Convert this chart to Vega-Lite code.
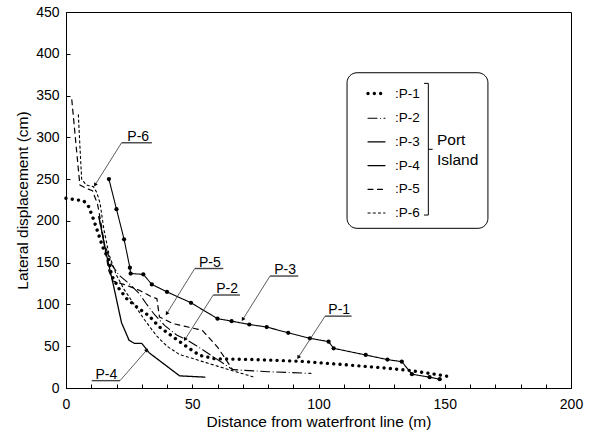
{
  "$schema": "https://vega.github.io/schema/vega-lite/v6.json",
  "width": 505,
  "height": 376,
  "autosize": {"type": "none"},
  "padding": {"left": 66, "top": 12, "right": 21, "bottom": 53},
  "background": "white",
  "config": {
    "font": "Liberation Sans",
    "view": {"stroke": "black", "strokeWidth": 1},
    "axis": {
      "grid": false,
      "domainColor": "black",
      "tickColor": "black",
      "labelColor": "black",
      "titleColor": "black",
      "labelFont": "Liberation Sans",
      "titleFont": "Liberation Sans",
      "labelFontSize": 14,
      "titleFontSize": 15.5,
      "titleFontWeight": "normal",
      "tickSize": -4,
      "labelFlush": false
    }
  },
  "resolve": {"axis": {"x": "independent"}},
  "datasets": {
    "series": [
      {"s": "P-1", "x": 0, "y": 227}, {"s": "P-1", "x": 7, "y": 224}, {"s": "P-1", "x": 9, "y": 217}, {"s": "P-1", "x": 11, "y": 201},
      {"s": "P-1", "x": 13, "y": 183}, {"s": "P-1", "x": 14.5, "y": 169}, {"s": "P-1", "x": 17, "y": 153}, {"s": "P-1", "x": 18, "y": 135},
      {"s": "P-1", "x": 21, "y": 119}, {"s": "P-1", "x": 24, "y": 107}, {"s": "P-1", "x": 28, "y": 97}, {"s": "P-1", "x": 33, "y": 86},
      {"s": "P-1", "x": 37, "y": 73}, {"s": "P-1", "x": 42.5, "y": 61}, {"s": "P-1", "x": 48, "y": 49}, {"s": "P-1", "x": 53, "y": 39},
      {"s": "P-1", "x": 59, "y": 35}, {"s": "P-1", "x": 75, "y": 34}, {"s": "P-1", "x": 93, "y": 32}, {"s": "P-1", "x": 110, "y": 28},
      {"s": "P-1", "x": 126, "y": 24}, {"s": "P-1", "x": 136, "y": 21}, {"s": "P-1", "x": 145, "y": 17}, {"s": "P-1", "x": 151, "y": 14},

      {"s": "P-2", "x": 13, "y": 205}, {"s": "P-2", "x": 15, "y": 175}, {"s": "P-2", "x": 18, "y": 148}, {"s": "P-2", "x": 21, "y": 135},
      {"s": "P-2", "x": 25, "y": 125}, {"s": "P-2", "x": 29, "y": 113}, {"s": "P-2", "x": 32, "y": 100}, {"s": "P-2", "x": 35, "y": 88},
      {"s": "P-2", "x": 39, "y": 75}, {"s": "P-2", "x": 44, "y": 63}, {"s": "P-2", "x": 47, "y": 59}, {"s": "P-2", "x": 52, "y": 50},
      {"s": "P-2", "x": 58, "y": 38}, {"s": "P-2", "x": 63, "y": 28}, {"s": "P-2", "x": 66, "y": 22}, {"s": "P-2", "x": 80, "y": 19.5},
      {"s": "P-2", "x": 97, "y": 17.5},

      {"s": "P-3", "x": 17, "y": 250}, {"s": "P-3", "x": 20, "y": 214}, {"s": "P-3", "x": 23, "y": 178}, {"s": "P-3", "x": 25.3, "y": 144},
      {"s": "P-3", "x": 25.6, "y": 137}, {"s": "P-3", "x": 30.6, "y": 136}, {"s": "P-3", "x": 34, "y": 124}, {"s": "P-3", "x": 40, "y": 115},
      {"s": "P-3", "x": 49.5, "y": 102}, {"s": "P-3", "x": 60, "y": 83}, {"s": "P-3", "x": 65.6, "y": 80}, {"s": "P-3", "x": 72.6, "y": 76},
      {"s": "P-3", "x": 79.5, "y": 73}, {"s": "P-3", "x": 88, "y": 66}, {"s": "P-3", "x": 96.6, "y": 59.5}, {"s": "P-3", "x": 104, "y": 55.5},
      {"s": "P-3", "x": 106, "y": 47.5}, {"s": "P-3", "x": 118.7, "y": 39.5}, {"s": "P-3", "x": 127.3, "y": 34}, {"s": "P-3", "x": 133, "y": 31.5},
      {"s": "P-3", "x": 137, "y": 16.5}, {"s": "P-3", "x": 144, "y": 13}, {"s": "P-3", "x": 148, "y": 10.5},

      {"s": "P-4", "x": 13, "y": 205}, {"s": "P-4", "x": 16, "y": 160}, {"s": "P-4", "x": 19, "y": 120}, {"s": "P-4", "x": 22, "y": 78},
      {"s": "P-4", "x": 25, "y": 57}, {"s": "P-4", "x": 27, "y": 53.5}, {"s": "P-4", "x": 30, "y": 53.5}, {"s": "P-4", "x": 33, "y": 42},
      {"s": "P-4", "x": 45, "y": 14.5}, {"s": "P-4", "x": 55, "y": 13},

      {"s": "P-5", "x": 2.3, "y": 345}, {"s": "P-5", "x": 4, "y": 290}, {"s": "P-5", "x": 5.5, "y": 243}, {"s": "P-5", "x": 8, "y": 239},
      {"s": "P-5", "x": 10.5, "y": 236}, {"s": "P-5", "x": 12.5, "y": 220}, {"s": "P-5", "x": 14, "y": 195}, {"s": "P-5", "x": 15.5, "y": 165},
      {"s": "P-5", "x": 17, "y": 140}, {"s": "P-5", "x": 18.6, "y": 128}, {"s": "P-5", "x": 24, "y": 123}, {"s": "P-5", "x": 29, "y": 117},
      {"s": "P-5", "x": 34, "y": 109}, {"s": "P-5", "x": 36, "y": 107}, {"s": "P-5", "x": 37, "y": 85}, {"s": "P-5", "x": 42.5, "y": 77},
      {"s": "P-5", "x": 54, "y": 69}, {"s": "P-5", "x": 60, "y": 49}, {"s": "P-5", "x": 66, "y": 22},

      {"s": "P-6", "x": 4.9, "y": 327}, {"s": "P-6", "x": 5.5, "y": 290}, {"s": "P-6", "x": 6.2, "y": 250}, {"s": "P-6", "x": 8, "y": 243},
      {"s": "P-6", "x": 10.8, "y": 241}, {"s": "P-6", "x": 12.2, "y": 234}, {"s": "P-6", "x": 13.5, "y": 221}, {"s": "P-6", "x": 15, "y": 190},
      {"s": "P-6", "x": 17, "y": 160}, {"s": "P-6", "x": 20, "y": 135}, {"s": "P-6", "x": 23, "y": 118}, {"s": "P-6", "x": 27, "y": 100},
      {"s": "P-6", "x": 31, "y": 82}, {"s": "P-6", "x": 36, "y": 62}, {"s": "P-6", "x": 40, "y": 50}, {"s": "P-6", "x": 45, "y": 40},
      {"s": "P-6", "x": 50, "y": 35.5}, {"s": "P-6", "x": 58, "y": 28}, {"s": "P-6", "x": 65, "y": 21.5}, {"s": "P-6", "x": 74, "y": 13.5}
    ],
    "notes": [
      {"label": "P-6", "tx": 28.6, "uy": 293.5, "u1": 22, "u2": 34, "ax": 22, "ay": 293.5, "bx": 11.5, "by": 243},
      {"label": "P-5", "tx": 57, "uy": 143, "u1": 51, "u2": 62.3, "ax": 51, "ay": 143, "bx": 39.9, "by": 89},
      {"label": "P-2", "tx": 63.8, "uy": 111.3, "u1": 58.3, "u2": 68.9, "ax": 58.3, "ay": 111.3, "bx": 47.1, "by": 58},
      {"label": "P-3", "tx": 86.8, "uy": 134, "u1": 80.8, "u2": 92, "ax": 80.8, "ay": 134, "bx": 70, "by": 82},
      {"label": "P-1", "tx": 108.2, "uy": 86, "u1": 102.6, "u2": 113.1, "ax": 102.6, "ay": 86, "bx": 92, "by": 36.7},
      {"label": "P-4", "tx": 16, "uy": 8.8, "u1": 10.2, "u2": 21.4, "ax": 21.4, "ay": 8.8, "bx": 32, "by": 45.5}
    ],
    "box": [{"x": 111.3, "x2": 167.1, "y": 191.1, "y2": 377.3}],
    "bracket": [
      {"x": 143.5, "y": 207, "x2": 143.5, "y2": 364.6},
      {"x": 141.8, "y": 364.6, "x2": 143.5, "y2": 364.6},
      {"x": 141.8, "y": 207, "x2": 143.5, "y2": 207},
      {"x": 143.5, "y": 285.7, "x2": 145.2, "y2": 285.7}
    ],
    "group": [
      {"t": "Port", "x": 146.9, "y": 296.5},
      {"t": "Island", "x": 146.9, "y": 272.5}
    ]
  },
  "layer": [
    {
      "data": {"name": "series"},
      "mark": {"type": "line", "color": "black", "strokeCap": "round", "strokeJoin": "round"},
      "encoding": {
        "x": {"field": "x", "type": "quantitative", "scale": {"domain": [0, 200], "nice": false},
              "axis": {"title": "Distance from waterfront line (m)", "orient": "bottom", "values": [0, 50, 100, 150, 200],
                       "labelPadding": 13, "titlePadding": 3}},
        "y": {"field": "y", "type": "quantitative", "scale": {"domain": [0, 450], "nice": false},
              "axis": {"title": "Lateral displacement (cm)", "values": [0,50,100,150,200,250,300,350,400,450], "labelPadding": 11, "titlePadding": 5}},
        "strokeDash": {"field": "s", "type": "nominal",
          "scale": {"domain": ["P-1","P-2","P-3","P-4","P-5","P-6"], "range": [[0.01, 6.3], [9, 3.5, 0.01, 3.5], [1, 0], [1, 0], [5, 4.5], [2.2, 3]]},
          "legend": {"title": null, "orient": "none", "legendX": 300, "legendY": 71, "symbolType": "stroke", "symbolSize": 289,
                     "symbolStrokeColor": "black", "labelExpr": "':' + datum.label", "labelFont": "Liberation Sans", "labelFontSize": 13.5,
                     "labelColor": "black", "labelOffset": 8, "rowPadding": 7.7, "padding": 0, "symbolOffset": 0,
                     "encode": {"symbols": {"update": {"strokeCap": {"value": "round"}}}}}},
        "strokeWidth": {"field": "s", "type": "nominal",
          "scale": {"type": "ordinal", "domain": ["P-1","P-2","P-3","P-4","P-5","P-6"], "range": [3.4, 1.1, 1.1, 1.3, 1.2, 1.1]},
          "legend": {"title": null, "orient": "none", "legendX": 300, "legendY": 71, "symbolType": "stroke", "symbolSize": 289,
                     "symbolStrokeColor": "black", "labelExpr": "':' + datum.label", "labelFont": "Liberation Sans", "labelFontSize": 13.5,
                     "labelColor": "black", "labelOffset": 8, "rowPadding": 7.7, "padding": 0, "symbolOffset": 0,
                     "encode": {"symbols": {"update": {"strokeCap": {"value": "round"}}}}}}
      }
    },
    {
      "data": {"name": "box"},
      "mark": {"type": "rect", "fill": "white", "stroke": "black", "strokeWidth": 1, "cornerRadius": 10},
      "encoding": {
        "x": {"field": "x", "type": "quantitative",
              "axis": {"title": null, "orient": "bottom", "labels": false, "domain": false,
                       "values": [10,20,30,40,60,70,80,90,110,120,130,140,160,170,180,190]}},
        "x2": {"field": "x2"},
        "y": {"field": "y", "type": "quantitative"},
        "y2": {"field": "y2"}
      }
    },
    {
      "data": {"name": "series"},
      "transform": [{"filter": "datum.s === 'P-3'"}],
      "mark": {"type": "point", "filled": true, "color": "black", "size": 18, "opacity": 1},
      "encoding": {
        "x": {"field": "x", "type": "quantitative", "axis": null},
        "y": {"field": "y", "type": "quantitative"}
      }
    },
    {
      "data": {"name": "notes"},
      "mark": {"type": "rule", "color": "#444", "strokeWidth": 1.4},
      "encoding": {
        "x": {"field": "u1", "type": "quantitative", "axis": null},
        "x2": {"field": "u2"},
        "y": {"field": "uy", "type": "quantitative"}
      }
    },
    {
      "data": {"name": "notes"},
      "mark": {"type": "rule", "color": "#333", "strokeWidth": 0.8},
      "encoding": {
        "x": {"field": "ax", "type": "quantitative", "axis": null},
        "x2": {"field": "bx"},
        "y": {"field": "ay", "type": "quantitative"},
        "y2": {"field": "by"}
      }
    },
    {
      "data": {"name": "notes"},
      "transform": [{"calculate": "atan2(-(datum.by - datum.ay) * 376 / 450, (datum.bx - datum.ax) * 505 / 200) * 180 / PI", "as": "ang"}],
      "mark": {"type": "point", "shape": "triangle-right", "filled": true, "color": "black", "size": 18, "opacity": 1},
      "encoding": {
        "x": {"field": "bx", "type": "quantitative", "axis": null},
        "y": {"field": "by", "type": "quantitative"},
        "angle": {"field": "ang", "type": "quantitative", "scale": null}
      }
    },
    {
      "data": {"name": "notes"},
      "mark": {"type": "text", "font": "Liberation Sans", "fontSize": 14, "color": "black", "align": "center", "baseline": "alphabetic", "dy": -2},
      "encoding": {
        "x": {"field": "tx", "type": "quantitative", "axis": null},
        "y": {"field": "uy", "type": "quantitative"},
        "text": {"field": "label"}
      }
    },
    {
      "data": {"name": "bracket"},
      "mark": {"type": "rule", "color": "black", "strokeWidth": 1},
      "encoding": {
        "x": {"field": "x", "type": "quantitative", "axis": null},
        "x2": {"field": "x2"},
        "y": {"field": "y", "type": "quantitative"},
        "y2": {"field": "y2"}
      }
    },
    {
      "data": {"name": "group"},
      "mark": {"type": "text", "font": "Liberation Sans", "fontSize": 15.5, "color": "black", "align": "left", "baseline": "middle"},
      "encoding": {
        "x": {"field": "x", "type": "quantitative", "axis": null},
        "y": {"field": "y", "type": "quantitative"},
        "text": {"field": "t"}
      }
    }
  ]
}
